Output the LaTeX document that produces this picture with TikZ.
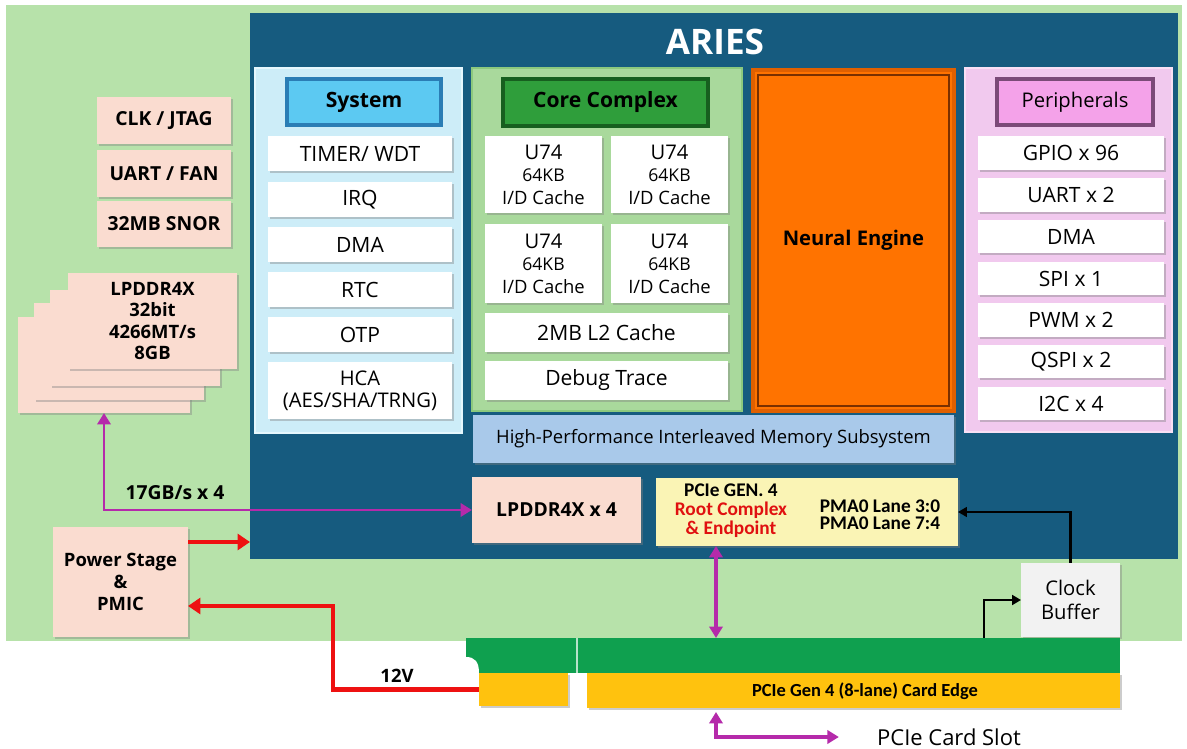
\documentclass[tikz,border=0pt]{standalone}
\usepackage{fontspec}
\setmainfont{Open Sans}
\newfontfamily\narrowfont{Carlito}
\usetikzlibrary{arrows.meta,shadows,calc}
\definecolor{bggreen}{HTML}{B7E2AA}
\definecolor{ariesblue}{HTML}{165B7F}
\definecolor{syspanel}{HTML}{CDEDF8}
\definecolor{sysborder}{HTML}{E6F7FD}
\definecolor{syshead}{HTML}{5CC9F2}
\definecolor{sysheadb}{HTML}{2A7DB5}
\definecolor{corepanel}{HTML}{A9D99C}
\definecolor{coreborder}{HTML}{8CC97E}
\definecolor{corehead}{HTML}{2F9E3B}
\definecolor{coreheadb}{HTML}{175F1F}
\definecolor{perpanel}{HTML}{F1C9EE}
\definecolor{perborder}{HTML}{F8E0F5}
\definecolor{perhead}{HTML}{F4A2E9}
\definecolor{perheadb}{HTML}{7B4A78}
\definecolor{neorange}{HTML}{FF7300}
\definecolor{neborder}{HTML}{E06000}
\definecolor{neinner}{HTML}{7A3000}
\definecolor{peach}{HTML}{FADCD0}
\definecolor{lyellow}{HTML}{FAF4B5}
\definecolor{memblue}{HTML}{A9C9EA}
\definecolor{cardgreen}{HTML}{0FA04F}
\definecolor{cardyellow}{HTML}{FFC20E}
\definecolor{purp}{HTML}{B52AAA}
\definecolor{pred}{HTML}{EE1111}
\definecolor{rcred}{HTML}{E01010}
\definecolor{clkfill}{HTML}{F2F2F2}
\tikzset{
  fitbox/.style={inner sep=0pt, outer sep=0pt},
  shad/.style={drop shadow={shadow xshift=1.2pt, shadow yshift=-1.4pt, opacity=0.4}},
  panel/.style={fitbox, line width=1.2pt},
  head/.style={fitbox, line width=2pt, font=\bfseries\fontsize{12}{14}\selectfont},
  item/.style={fitbox, fill=white, shad, font=\fontsize{12}{14}\selectfont, align=center},
  ubox/.style={fitbox, fill=white, shad, font=\fontsize{11.5}{12.8}\selectfont, align=center},
  peachbox/.style={fitbox, fill=peach, shad, font=\bfseries\fontsize{11}{12.4}\selectfont, align=center},
  lbl/.style={inner sep=0pt},
  parrow/.style={purp, line width=1.8pt, {Triangle[length=6.5pt,width=7.5pt]}-{Triangle[length=6.5pt,width=7.5pt]}},
  rarrow/.style={pred, line width=2.4pt, -{Triangle[length=7pt,width=9pt]}},
  karrow/.style={black, line width=1.3pt, -{Triangle[length=5pt,width=5.5pt]}},
}
% box from pixel corners (x1,y1)-(x2,y2): \bx{style}{x1}{y1}{x2}{y2}{name}{text};
\newcommand\bx[6]{\node[#1, minimum width={((#4)-(#2))*0.02cm}, minimum height={((#5)-(#3))*0.02cm}] (#6) at ({((#2)+(#4))/2},{((#3)+(#5))/2})}
\begin{document}
\begin{tikzpicture}[x=0.02cm,y=-0.02cm]
\useasboundingbox (0,0) rectangle (1187,749);
\fill[white] (0,0) rectangle (1187,749);
% board and chip
\bx{fitbox, fill=bggreen}{6}{5}{1182}{641}{board}{};
\bx{fitbox, fill=ariesblue}{250}{13}{1178}{559}{aries}{};
\node[lbl, text=white, font=\bfseries\fontsize{20}{24}\selectfont] (title) at (715,42) {ARIES};

% System column
\bx{panel, fill=syspanel, draw=sysborder}{255}{68}{462}{433}{sys}{};
\bx{head, fill=syshead, draw=sysheadb}{287}{79}{441}{125}{syshd}{System};
\bx{item}{268}{136}{452}{171}{timer}{TIMER/ WDT};
\bx{item}{268}{182}{452}{217}{irq}{IRQ};
\bx{item}{268}{227}{452}{262}{sdma}{DMA};
\bx{item}{268}{272}{452}{307}{rtc}{RTC};
\bx{item}{268}{317}{452}{352}{otp}{OTP};
\bx{item, font=\fontsize{11.5}{12.6}\selectfont}{268}{362}{452}{419}{hca}{HCA\\(AES/SHA/TRNG)};

% Core complex
\bx{panel, fill=corepanel, draw=coreborder}{472}{68}{742}{411}{core}{};
\bx{head, fill=corehead, draw=coreheadb}{503}{79}{708}{126}{corehd}{Core Complex};
\newcommand\ucore{U74\\{\fontsize{10}{12.8}\selectfont 64KB}\\{\fontsize{10.5}{12.8}\selectfont I/D Cache}}
\bx{ubox}{485}{136}{602}{213}{u1}{\ucore};
\bx{ubox}{611}{136}{728}{213}{u2}{\ucore};
\bx{ubox}{485}{224}{602}{303}{u3}{\ucore};
\bx{ubox}{611}{224}{728}{303}{u4}{\ucore};
\bx{item}{485}{313}{728}{352}{l2}{2MB L2 Cache};
\bx{item}{485}{361}{728}{400}{dbg}{Debug Trace};

% Neural engine
\bx{fitbox, fill=neorange, draw=neborder, line width=2pt, font=\bfseries\fontsize{11.5}{13}\selectfont}{753}{70}{954}{411}{ne}{Neural Engine};
\draw[neinner, line width=0.8pt] ($(ne.north west)+(5,5)$) rectangle ($(ne.south east)+(-5,-5)$);

% Peripherals
\bx{panel, fill=perpanel, draw=perborder}{965}{68}{1172}{432}{per}{};
\bx{head, fill=perhead, draw=perheadb, font=\fontsize{11.5}{13}\selectfont}{997}{79}{1153}{125}{perhd}{Peripherals};
\bx{item}{978}{136}{1164}{170}{gpio}{GPIO x 96};
\bx{item}{978}{178}{1164}{212}{puart}{UART x 2};
\bx{item}{978}{220}{1164}{253}{pdma}{DMA};
\bx{item}{978}{262}{1164}{295}{spi}{SPI x 1};
\bx{item}{978}{303}{1164}{337}{pwm}{PWM x 2};
\bx{item}{978}{345}{1164}{378}{qspi}{QSPI x 2};
\bx{item}{978}{387}{1164}{420}{i2c}{I2C x 4};

% memory subsystem
\bx{fitbox, fill=memblue, shad, font=\fontsize{10.5}{13}\selectfont}{473}{415}{954}{463}{mem}{High-Performance Interleaved Memory Subsystem};

% LPDDR4X x 4 and PCIe
\bx{peachbox}{472}{477}{641}{543}{lp4}{LPDDR4X x 4};
\bx{fitbox, fill=lyellow, shad}{656}{478}{958}{546}{pcie}{};
\node[lbl, align=center, font=\narrowfont\bfseries\fontsize{11}{10.8}\selectfont] (pcieA) at (731,511) {PCIe GEN. 4\\\textcolor{rcred}{Root Complex}\\\textcolor{rcred}{\& Endpoint}};
\node[lbl, align=center, font=\narrowfont\bfseries\fontsize{11}{9.8}\selectfont] (pcieB) at (880,515) {PMA0 Lane 3:0\\PMA0 Lane 7:4};

% left side boxes
\bx{peachbox}{97}{97}{231}{144}{clkj}{CLK / JTAG};
\bx{peachbox}{97}{150}{231}{197}{uartf}{UART / FAN};
\bx{peachbox}{97}{201}{231}{247}{snor}{32MB SNOR};
\bx{peachbox}{18}{317}{190}{413}{s4}{};
\bx{peachbox}{34}{303}{204}{400}{s3}{};
\bx{peachbox}{50}{290}{220}{386}{s2}{};
\bx{peachbox, font=\bfseries\fontsize{10.5}{12.3}\selectfont}{68}{273}{237}{369}{s1}{LPDDR4X\\32bit\\4266MT/s\\8GB};
\bx{peachbox, font=\bfseries\fontsize{10.5}{12.4}\selectfont}{53}{527}{188}{637}{pmic}{Power Stage\\\&\\PMIC};

% clock buffer
\bx{fitbox, fill=clkfill, shad, align=center, font=\fontsize{11.5}{13.6}\selectfont}{1021}{563}{1120}{637}{clk}{Clock\\Buffer};

% card edge
\bx{fitbox, fill=cardgreen}{466}{638}{1120}{673}{gbar}{};
\fill[white] (466,673) -- (466,657) .. controls (475,657) and (479,662) .. (479,673) -- cycle;
\draw[white!70!cardgreen, line width=0.8pt] (577,638) -- (577,673);
\bx{fitbox, fill=cardyellow, shad}{479}{673}{568}{706}{ycard1}{};
\bx{fitbox, fill=cardyellow, shad}{587}{673}{1120}{708}{ycard2}{};
\node[lbl, font=\narrowfont\bfseries\fontsize{10.5}{12}\selectfont] (celbl) at (865,691) {PCIe Gen 4 (8-lane) Card Edge};
\node[lbl, font=\fontsize{12.5}{14}\selectfont] (slot) at (949,737) {PCIe Card Slot};

% labels
\node[lbl, font=\bfseries\fontsize{11}{13}\selectfont] (bw) at (175,493) {17GB/s x 4};
\node[lbl, font=\bfseries\fontsize{10.5}{12}\selectfont] (v12) at (397,676) {12V};

% connectors
\draw[parrow, line width=1.6pt] (lp4.west) -| (s4.south);
\draw[parrow] ($(pcie.south west)+(60,0)$) -- ($(gbar.north west)+(250,0)$);
\draw[parrow] ($(ycard2.south west)+(129,4)$) |- ([xshift=-0.76cm]slot.west);
\draw[rarrow] ([yshift=0.8cm]pmic.east) -- ([yshift=0.8cm]pmic.east -| aries.west);
\draw[rarrow] (ycard1.west) -- ++(-146,0) |- ([yshift=-0.48cm]pmic.east);
\draw[karrow] (clk.north) |- (pcie.east);
\coordinate (cbsrc) at (984,638);
\draw[karrow] (cbsrc) |- (clk.west);
\end{tikzpicture}
\end{document}
